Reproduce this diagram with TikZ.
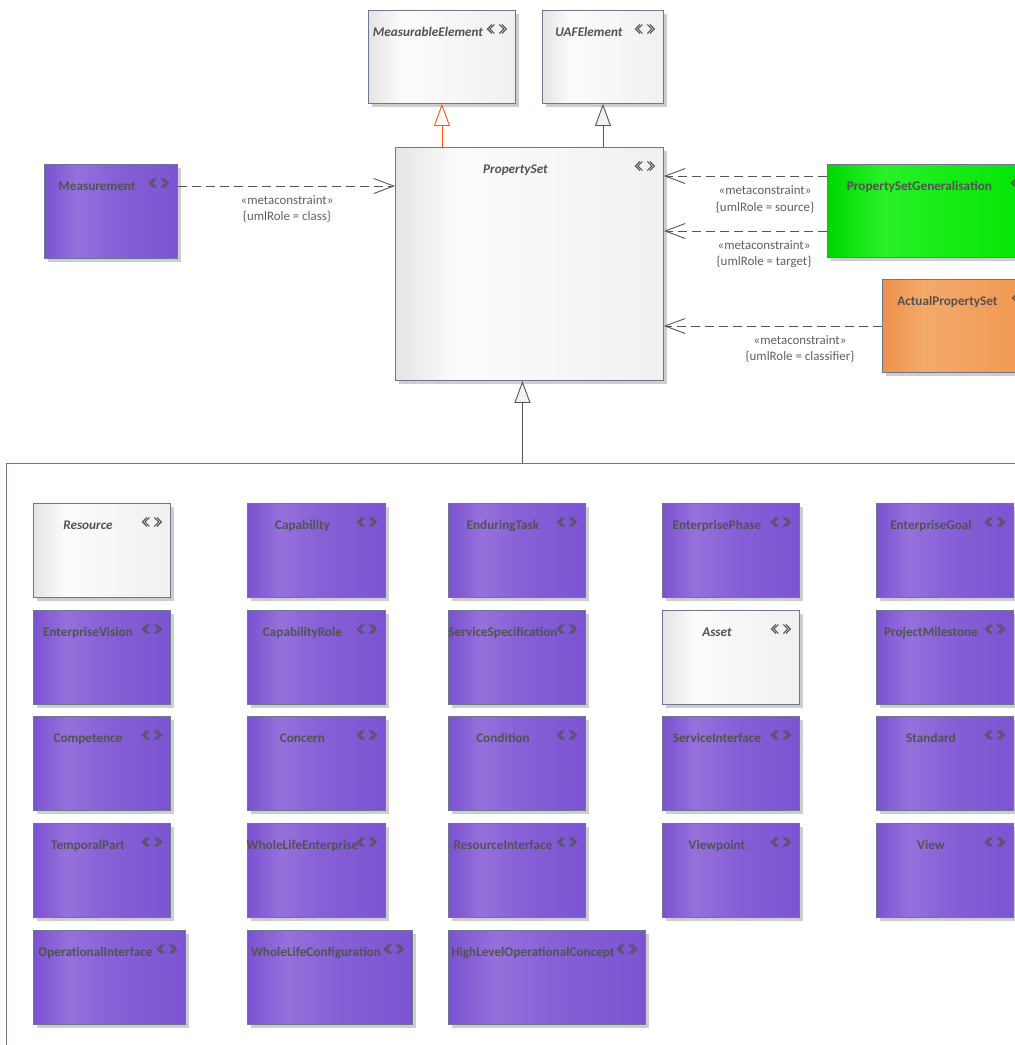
\documentclass[tikz,border=0pt]{standalone}
\usepackage{fontspec}
\setmainfont{Carlito}
\usetikzlibrary{arrows.meta,calc}
\definecolor{txt}{RGB}{82,82,82}
\definecolor{lblc}{RGB}{96,96,96}
\definecolor{bord}{RGB}{110,118,145}
\definecolor{shad}{RGB}{205,205,205}
\definecolor{lnc}{RGB}{85,85,85}
\definecolor{genred}{RGB}{255,80,20}
\definecolor{tri}{RGB}{246,240,238}
\definecolor{pA}{RGB}{122,82,208}
\definecolor{pB}{RGB}{149,113,220}
\definecolor{pM}{RGB}{133,96,214}
\definecolor{pC}{RGB}{124,84,210}
\definecolor{gA}{RGB}{228,228,228}
\definecolor{gB}{RGB}{252,252,252}
\definecolor{gC}{RGB}{240,240,240}
\definecolor{grA}{RGB}{0,215,0}
\definecolor{grB}{RGB}{40,240,40}
\definecolor{grC}{RGB}{0,228,0}
\definecolor{oA}{RGB}{236,145,76}
\definecolor{oB}{RGB}{244,170,106}
\definecolor{oC}{RGB}{240,150,78}
\pgfdeclarehorizontalshading{purpsh}{100bp}{color(0bp)=(pA); color(25bp)=(pA); color(37bp)=(pB); color(52bp)=(pM); color(75bp)=(pC); color(100bp)=(pC)}
\pgfdeclarehorizontalshading{graysh}{100bp}{color(0bp)=(gA); color(25bp)=(gA); color(37bp)=(gB); color(75bp)=(gC); color(100bp)=(gC)}
\pgfdeclarehorizontalshading{greensh}{100bp}{color(0bp)=(grA); color(25bp)=(grA); color(38bp)=(grB); color(75bp)=(grC); color(100bp)=(grC)}
\pgfdeclarehorizontalshading{orangesh}{100bp}{color(0bp)=(oA); color(25bp)=(oA); color(38bp)=(oB); color(75bp)=(oC); color(100bp)=(oC)}
\tikzset{
  box/.style={draw=bord, line width=0.9pt, inner sep=0pt, anchor=north west},
  purpbox/.style={box, shading=purpsh},
  graybox/.style={box, shading=graysh},
  greenbox/.style={box, shading=greensh},
  orangebox/.style={box, shading=orangesh},
  title/.style={font=\bfseries\fontsize{13.2}{15}\selectfont, text=txt, anchor=base, inner sep=0pt},
  ititle/.style={font=\bfseries\itshape\fontsize{13.2}{15}\selectfont, text=txt, anchor=base, inner sep=0pt},
  lbl/.style={font=\fontsize{12.9}{16.2}\selectfont, text=lblc, inner sep=0pt, align=center},
  iconline/.style={draw=txt, line width=0.95pt},
  stereoicon/.pic={
    \draw[iconline] (-5,-4.5) -- (-9.5,0) -- (-5,4.5);
    \draw[iconline] (-2.5,-4.5) -- (-7,0) -- (-2.5,4.5);
    \draw[iconline] (2.5,-4.5) -- (7,0) -- (2.5,4.5);
    \draw[iconline] (5,-4.5) -- (9.5,0) -- (5,4.5);
  },
  dep/.style={draw=lnc, line width=0.9pt, dash pattern=on 9pt off 5pt, -{Straight Barb[length=20pt,width=15pt]}},
  gen/.style={draw=lnc, line width=0.9pt, -{Triangle[length=22pt,width=16pt,fill=tri]}},
  genr/.style={draw=genred, line width=0.9pt, -{Triangle[length=22pt,width=16pt,fill=white]}},
  frame/.style={draw=bord, line width=0.9pt, anchor=north west, inner sep=0pt},
}
% #1 name, #2 x, #3 y, #4 w, #5 h, #6 style, #7 title style, #8 title
\newcommand\umlbox[8]{%
  \fill[shad] (#2+4,#3+4) rectangle ++(#4,#5);
  \node[#6, minimum width=#4pt, minimum height=#5pt] (#1) at (#2,#3) {};
  \node[#7] (#1-t) at ($(#1.north)+(-14,26)$) {#8};
  \pic at ($(#1.north east)+(-19,19)$) {stereoicon};
}
\begin{document}
\begin{tikzpicture}[x=1pt,y=-1pt]
\path[use as bounding box] (0,0) rectangle (1015,1045);
\clip (0,0) rectangle (1015,1045);
\fill[white] (0,0) rectangle (1015,1045);

% package frame
\node[frame, minimum width=1100pt, minimum height=700pt] (pkg) at (6,463) {};

% top elements
\umlbox{me}{368}{10}{147}{93}{graybox}{ititle}{MeasurableElement}
\umlbox{uaf}{542}{10}{121}{93}{graybox}{ititle}{UAFElement}
\umlbox{ps}{395}{147}{268}{233}{graybox}{ititle}{PropertySet}
\umlbox{meas}{44}{164}{133}{94}{purpbox}{title}{Measurement}
\umlbox{psg}{827}{164}{212}{93}{greenbox}{title}{PropertySetGeneralisation}
\umlbox{aps}{882}{279}{158}{93}{orangebox}{title}{ActualPropertySet}

% grid of specialisations
\umlbox{res}{33}{503}{137}{94}{graybox}{ititle}{Resource}
\umlbox{cap}{247}{503}{138}{94}{purpbox}{title}{Capability}
\umlbox{et}{448}{503}{137}{94}{purpbox}{title}{EnduringTask}
\umlbox{ep}{662}{503}{137}{94}{purpbox}{title}{EnterprisePhase}
\umlbox{eg}{876}{503}{137}{94}{purpbox}{title}{EnterpriseGoal}

\umlbox{ev}{33}{610}{137}{94}{purpbox}{title}{EnterpriseVision}
\umlbox{cr}{247}{610}{138}{94}{purpbox}{title}{CapabilityRole}
\umlbox{ss}{448}{610}{137}{94}{purpbox}{title}{ServiceSpecification}
\umlbox{asset}{662}{610}{137}{94}{graybox}{ititle}{Asset}
\umlbox{pm}{876}{610}{137}{94}{purpbox}{title}{ProjectMilestone}

\umlbox{comp}{33}{716}{137}{94}{purpbox}{title}{Competence}
\umlbox{conc}{247}{716}{138}{94}{purpbox}{title}{Concern}
\umlbox{cond}{448}{716}{137}{94}{purpbox}{title}{Condition}
\umlbox{si}{662}{716}{137}{94}{purpbox}{title}{ServiceInterface}
\umlbox{std}{876}{716}{137}{94}{purpbox}{title}{Standard}

\umlbox{tp}{33}{823}{137}{94}{purpbox}{title}{TemporalPart}
\umlbox{wle}{247}{823}{138}{94}{purpbox}{title}{WholeLifeEnterprise}
\umlbox{ri}{448}{823}{137}{94}{purpbox}{title}{ResourceInterface}
\umlbox{vp}{662}{823}{137}{94}{purpbox}{title}{Viewpoint}
\umlbox{view}{876}{823}{137}{94}{purpbox}{title}{View}

\umlbox{oi}{33}{930}{152}{94}{purpbox}{title}{OperationalInterface}
\umlbox{wlc}{247}{930}{165}{94}{purpbox}{title}{WholeLifeConfiguration}
\umlbox{hloc}{448}{930}{197}{94}{purpbox}{title}{HighLevelOperationalConcept}

% generalisations
\draw[genr] (ps.north -| me.south) -- (me.south);
\draw[gen] (ps.north -| uaf.south) -- (uaf.south);
\draw[gen] ([xshift=-7pt]ps.south |- pkg.north) -- ([xshift=-7pt]ps.south);

% metaconstraints
\draw[dep] ([yshift=-22pt]meas.north east) -- ([yshift=-22pt]meas.north east -| ps.west);
\node[lbl] (l1) at (287,209) {«metaconstraint»\\\{umlRole = class\}};
\draw[dep] ([yshift=-12pt]psg.north west) -- ([yshift=-12pt]psg.north west -| ps.east);
\node[lbl] (l2) at (765,199.5) {«metaconstraint»\\\{umlRole = source\}};
\draw[dep] ([yshift=-67pt]psg.north west) -- ([yshift=-67pt]psg.north west -| ps.east);
\node[lbl] (l3) at (764,254.5) {«metaconstraint»\\\{umlRole = target\}};
\draw[dep] ([yshift=-47pt]aps.north west) -- ([yshift=-47pt]aps.north west -| ps.east);
\node[lbl] (l4) at (800,349) {«metaconstraint»\\\{umlRole = classifier\}};
\end{tikzpicture}
\end{document}
